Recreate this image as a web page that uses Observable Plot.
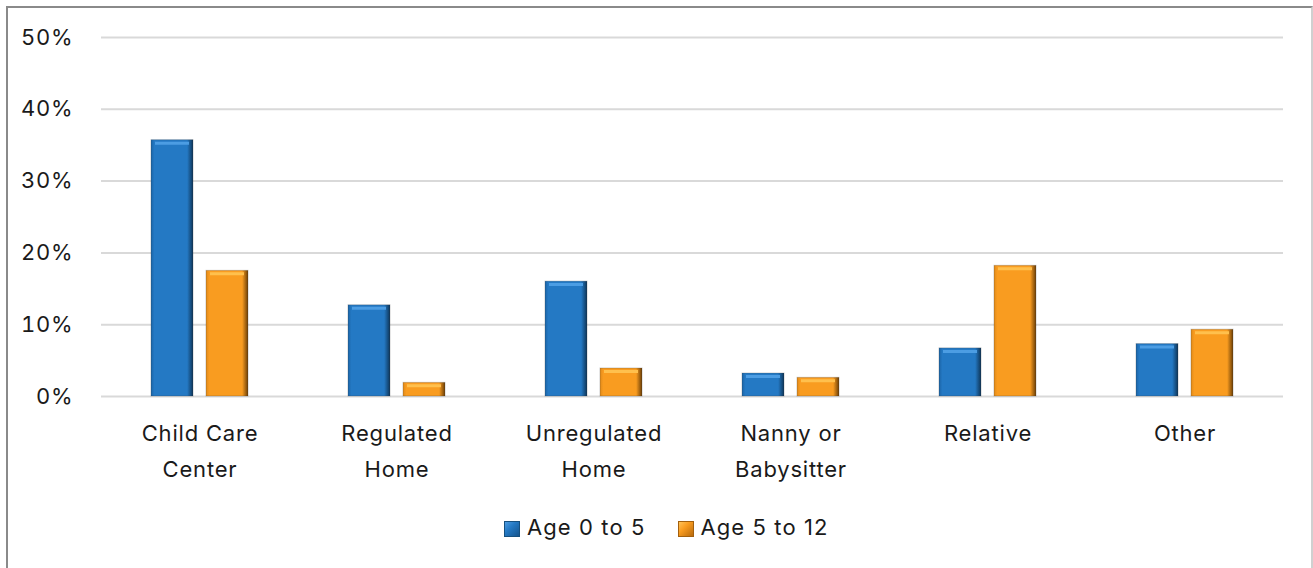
<!DOCTYPE html>
<html>
<head>
<meta charset="utf-8">
<script src="https://cdn.jsdelivr.net/npm/d3@7"></script>
<script src="https://cdn.jsdelivr.net/npm/@observablehq/plot@0.6"></script>
<style>
  html, body { margin: 0; padding: 0; background: #fff; overflow: hidden; }
  #frame {
    position: absolute; left: 6px; top: 6px; width: 1303px; height: 600px;
    border-left: 2px solid #8a8a8a; border-top: 2px solid #8a8a8a; border-right: 2px solid #d0d0d0;
    background: #fff; font-family: Inter, "Noto Sans", sans-serif;
  }
  #legend {
    position: absolute; top: 504px; left: 496px; text-align: left;
    font-size: 22px; letter-spacing: 1.1px; color: #1a1a1a; white-space: nowrap; line-height: 30px;
  }
  .item { display: inline-flex; align-items: center; margin-right: 32px; }
  .sw { display: inline-block; width: 14px; height: 14px; margin-right: 7px; margin-top: 3px; }
  .sw.b { background: linear-gradient(135deg, #4d9be0 0%, #2479c4 40%, #15548d 100%); border: 1px solid #16507f; }
  .sw.o { background: linear-gradient(135deg, #ffc45a 0%, #f99c20 40%, #b86a0c 100%); border: 1px solid #a3600e; }
</style>
</head>
<body>
<div id="frame"><div id="chart"></div><div id="legend"></div></div>
<script>
const categories = ["Child Care\nCenter", "Regulated\nHome", "Unregulated\nHome", "Nanny or\nBabysitter", "Relative", "Other"];
const seriesNames = ["Age 0 to 5", "Age 5 to 12"];
const age0to5 = [0.357, 0.127, 0.160, 0.032, 0.067, 0.073];
const age5to12 = [0.175, 0.019, 0.039, 0.026, 0.182, 0.093];
const yTicks = [0, 0.1, 0.2, 0.3, 0.4, 0.5];

const data = [];
categories.forEach((c, i) => {
  data.push({category: c, series: seriesNames[0], value: age0to5[i]});
  data.push({category: c, series: seriesNames[1], value: age5to12[i]});
});

const plot = Plot.plot({
  width: 1303,
  height: 492,
  marginLeft: 92,
  marginRight: 27,
  marginTop: 29,
  marginBottom: 104,
  style: {fontFamily: 'Inter, "Noto Sans", sans-serif', fontSize: "22px", letterSpacing: "0.8px", color: "#1a1a1a", background: "transparent"},
  fx: {domain: categories, padding: 0, label: null},
  x: {domain: seriesNames, paddingInner: 0.232, paddingOuter: 0.875, axis: null},
  y: {domain: [0, 0.5], ticks: yTicks, tickFormat: d3.format(".0%"), label: null},
  color: {domain: seriesNames, range: ["url(#gBlue)", "url(#gOrange)"]},
  marks: [
    Plot.ruleY(yTicks, {stroke: "#d9d9d9", strokeWidth: 2}),
    Plot.axisY({ticks: yTicks, tickSize: 0, tickPadding: 28, tickFormat: d3.format(".0%"), label: null, fontSize: 22}),
    Plot.axisFx({anchor: "bottom", tickSize: 0, tickPadding: 20, label: null, fontSize: 22, lineHeight: 1.6}),
    Plot.barY(data, {fx: "category", x: "series", y: "value", fill: "series", stroke: "#333", strokeOpacity: 0.25, strokeWidth: 1}),
    Plot.tickY(data, {fx: "category", x: "series", y: "value", stroke: "series", strokeWidth: 3, dy: 3, insetLeft: 4, insetRight: 4})
  ]
});

// gradients for the bevelled bar look
const svg = d3.select(plot);
const defs = svg.insert("defs", ":first-child");
function grad(id, edgeL, mid, edgeR) {
  const g = defs.append("linearGradient").attr("id", id).attr("x1", 0).attr("x2", 1).attr("y1", 0).attr("y2", 0);
  g.append("stop").attr("offset", 0).attr("stop-color", edgeL);
  g.append("stop").attr("offset", 0.08).attr("stop-color", mid);
  g.append("stop").attr("offset", 0.86).attr("stop-color", mid);
  g.append("stop").attr("offset", 1).attr("stop-color", edgeR);
}
grad("gBlue", "#1b64a6", "#2479c4", "#0e3558");
grad("gOrange", "#e08a1a", "#f99c20", "#6b3e06");
svg.selectAll("line").each(function() {
  const s = this.getAttribute("stroke");
  if (s === "url(#gBlue)") this.setAttribute("stroke", "#4c9de3");
  if (s === "url(#gOrange)") this.setAttribute("stroke", "#ffc04d");
});
document.getElementById("chart").appendChild(plot);

const legend = document.getElementById("legend");
seriesNames.forEach((s, i) => {
  const item = document.createElement("span");
  item.className = "item";
  item.innerHTML = `<span class="sw ${i === 0 ? "b" : "o"}"></span>${s}`;
  legend.appendChild(item);
});
</script>
</body>
</html>
